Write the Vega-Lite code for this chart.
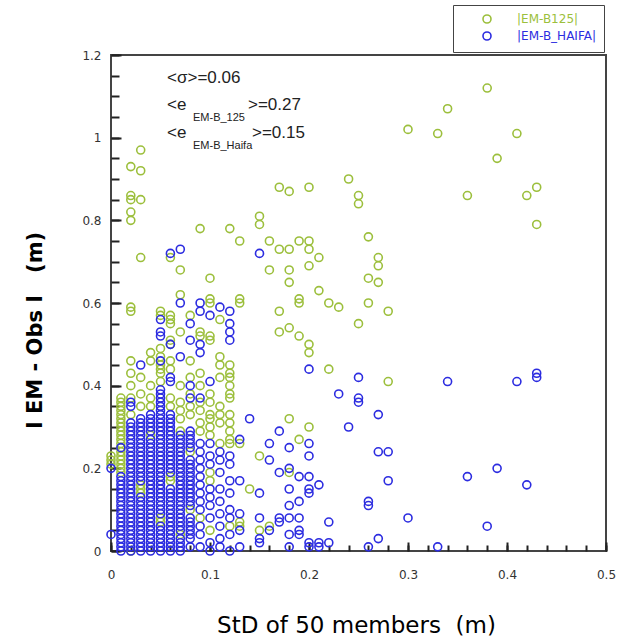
{
"$schema": "https://vega.github.io/schema/vega-lite/v6.json",
"width": 495, "height": 496,
"autosize": {"type": "none"},
"padding": {"left": 111, "top": 55, "right": 24, "bottom": 92},
"config": {"view": {"stroke": "#444", "strokeWidth": 2}, "font": "DejaVu Sans", "axis": {"ticks": true, "tickOpacity": 1}},
"datasets": {
"pts": [
{"g":"G","x":0,"y":0.21},{"g":"G","x":0,"y":0.22},{"g":"G","x":0,"y":0.23},
{"g":"G","x":0.01,"y":0.19},{"g":"G","x":0.01,"y":0.2},{"g":"G","x":0.01,"y":0.21},{"g":"G","x":0.01,"y":0.22},{"g":"G","x":0.01,"y":0.23},{"g":"G","x":0.01,"y":0.24},{"g":"G","x":0.01,"y":0.25},{"g":"G","x":0.01,"y":0.26},{"g":"G","x":0.01,"y":0.27},{"g":"G","x":0.01,"y":0.28},{"g":"G","x":0.01,"y":0.29},{"g":"G","x":0.01,"y":0.3},{"g":"G","x":0.01,"y":0.31},{"g":"G","x":0.01,"y":0.32},{"g":"G","x":0.01,"y":0.33},{"g":"G","x":0.01,"y":0.34},{"g":"G","x":0.01,"y":0.35},{"g":"G","x":0.01,"y":0.36},{"g":"G","x":0.01,"y":0.37},
{"g":"G","x":0.02,"y":0},{"g":"G","x":0.02,"y":0.33},{"g":"G","x":0.02,"y":0.37},{"g":"G","x":0.02,"y":0.4},{"g":"G","x":0.02,"y":0.43},{"g":"G","x":0.02,"y":0.46},{"g":"G","x":0.02,"y":0.58},{"g":"G","x":0.02,"y":0.59},{"g":"G","x":0.02,"y":0.8},{"g":"G","x":0.02,"y":0.82},{"g":"G","x":0.02,"y":0.85},{"g":"G","x":0.02,"y":0.86},{"g":"G","x":0.02,"y":0.93},
{"g":"G","x":0.03,"y":0.14},{"g":"G","x":0.03,"y":0.15},{"g":"G","x":0.03,"y":0.16},{"g":"G","x":0.03,"y":0.35},{"g":"G","x":0.03,"y":0.38},{"g":"G","x":0.03,"y":0.42},{"g":"G","x":0.03,"y":0.71},{"g":"G","x":0.03,"y":0.85},{"g":"G","x":0.03,"y":0.92},{"g":"G","x":0.03,"y":0.97},
{"g":"G","x":0.04,"y":0.28},{"g":"G","x":0.04,"y":0.35},{"g":"G","x":0.04,"y":0.37},{"g":"G","x":0.04,"y":0.4},{"g":"G","x":0.04,"y":0.46},{"g":"G","x":0.04,"y":0.48},
{"g":"G","x":0.05,"y":0.07},{"g":"G","x":0.05,"y":0.08},{"g":"G","x":0.05,"y":0.41},{"g":"G","x":0.05,"y":0.43},{"g":"G","x":0.05,"y":0.44},{"g":"G","x":0.05,"y":0.45},{"g":"G","x":0.05,"y":0.47},{"g":"G","x":0.05,"y":0.49},{"g":"G","x":0.05,"y":0.57},{"g":"G","x":0.05,"y":0.58},
{"g":"G","x":0.06,"y":0.17},{"g":"G","x":0.06,"y":0.18},{"g":"G","x":0.06,"y":0.35},{"g":"G","x":0.06,"y":0.37},{"g":"G","x":0.06,"y":0.44},{"g":"G","x":0.06,"y":0.46},{"g":"G","x":0.06,"y":0.5},{"g":"G","x":0.06,"y":0.51},{"g":"G","x":0.06,"y":0.55},{"g":"G","x":0.06,"y":0.56},{"g":"G","x":0.06,"y":0.57},{"g":"G","x":0.06,"y":0.71},
{"g":"G","x":0.07,"y":0.04},{"g":"G","x":0.07,"y":0.29},{"g":"G","x":0.07,"y":0.32},{"g":"G","x":0.07,"y":0.34},{"g":"G","x":0.07,"y":0.36},{"g":"G","x":0.07,"y":0.4},{"g":"G","x":0.07,"y":0.53},{"g":"G","x":0.07,"y":0.62},{"g":"G","x":0.07,"y":0.68},
{"g":"G","x":0.08,"y":0.1},{"g":"G","x":0.08,"y":0.24},{"g":"G","x":0.08,"y":0.33},{"g":"G","x":0.08,"y":0.35},{"g":"G","x":0.08,"y":0.38},{"g":"G","x":0.08,"y":0.42},{"g":"G","x":0.08,"y":0.46},{"g":"G","x":0.08,"y":0.57},
{"g":"G","x":0.09,"y":0.08},{"g":"G","x":0.09,"y":0.29},{"g":"G","x":0.09,"y":0.31},{"g":"G","x":0.09,"y":0.34},{"g":"G","x":0.09,"y":0.36},{"g":"G","x":0.09,"y":0.4},{"g":"G","x":0.09,"y":0.43},{"g":"G","x":0.09,"y":0.52},{"g":"G","x":0.09,"y":0.53},{"g":"G","x":0.09,"y":0.78},
{"g":"G","x":0.1,"y":0.05},{"g":"G","x":0.1,"y":0.17},{"g":"G","x":0.1,"y":0.19},{"g":"G","x":0.1,"y":0.28},{"g":"G","x":0.1,"y":0.3},{"g":"G","x":0.1,"y":0.32},{"g":"G","x":0.1,"y":0.33},{"g":"G","x":0.1,"y":0.36},{"g":"G","x":0.1,"y":0.38},{"g":"G","x":0.1,"y":0.51},{"g":"G","x":0.1,"y":0.52},{"g":"G","x":0.1,"y":0.6},{"g":"G","x":0.1,"y":0.61},{"g":"G","x":0.1,"y":0.66},
{"g":"G","x":0.11,"y":0.26},{"g":"G","x":0.11,"y":0.31},{"g":"G","x":0.11,"y":0.33},{"g":"G","x":0.11,"y":0.35},{"g":"G","x":0.11,"y":0.42},{"g":"G","x":0.11,"y":0.45},{"g":"G","x":0.11,"y":0.47},{"g":"G","x":0.11,"y":0.56},
{"g":"G","x":0.12,"y":0.06},{"g":"G","x":0.12,"y":0.26},{"g":"G","x":0.12,"y":0.27},{"g":"G","x":0.12,"y":0.29},{"g":"G","x":0.12,"y":0.31},{"g":"G","x":0.12,"y":0.33},{"g":"G","x":0.12,"y":0.37},{"g":"G","x":0.12,"y":0.38},{"g":"G","x":0.12,"y":0.4},{"g":"G","x":0.12,"y":0.42},{"g":"G","x":0.12,"y":0.43},{"g":"G","x":0.12,"y":0.45},{"g":"G","x":0.12,"y":0.78},
{"g":"G","x":0.13,"y":0.06},{"g":"G","x":0.13,"y":0.07},{"g":"G","x":0.13,"y":0.26},{"g":"G","x":0.13,"y":0.6},{"g":"G","x":0.13,"y":0.61},{"g":"G","x":0.13,"y":0.75},
{"g":"G","x":0.14,"y":0.15},
{"g":"G","x":0.15,"y":0.05},{"g":"G","x":0.15,"y":0.23},{"g":"G","x":0.15,"y":0.79},{"g":"G","x":0.15,"y":0.81},
{"g":"G","x":0.16,"y":0.06},{"g":"G","x":0.16,"y":0.68},{"g":"G","x":0.16,"y":0.75},
{"g":"G","x":0.17,"y":0.53},{"g":"G","x":0.17,"y":0.58},{"g":"G","x":0.17,"y":0.73},{"g":"G","x":0.17,"y":0.88},
{"g":"G","x":0.18,"y":0.19},{"g":"G","x":0.18,"y":0.32},{"g":"G","x":0.18,"y":0.54},{"g":"G","x":0.18,"y":0.65},{"g":"G","x":0.18,"y":0.68},{"g":"G","x":0.18,"y":0.73},{"g":"G","x":0.18,"y":0.87},
{"g":"G","x":0.19,"y":0.27},{"g":"G","x":0.19,"y":0.52},{"g":"G","x":0.19,"y":0.6},{"g":"G","x":0.19,"y":0.61},{"g":"G","x":0.19,"y":0.75},
{"g":"G","x":0.2,"y":0.3},{"g":"G","x":0.2,"y":0.48},{"g":"G","x":0.2,"y":0.5},{"g":"G","x":0.2,"y":0.69},{"g":"G","x":0.2,"y":0.73},{"g":"G","x":0.2,"y":0.75},{"g":"G","x":0.2,"y":0.88},
{"g":"G","x":0.21,"y":0.63},{"g":"G","x":0.21,"y":0.71},
{"g":"G","x":0.22,"y":0.44},{"g":"G","x":0.22,"y":0.6},
{"g":"G","x":0.23,"y":0.59},
{"g":"G","x":0.24,"y":0.9},
{"g":"G","x":0.25,"y":0.55},{"g":"G","x":0.25,"y":0.84},{"g":"G","x":0.25,"y":0.86},
{"g":"G","x":0.26,"y":0.6},{"g":"G","x":0.26,"y":0.66},{"g":"G","x":0.26,"y":0.76},
{"g":"G","x":0.27,"y":0.65},{"g":"G","x":0.27,"y":0.69},{"g":"G","x":0.27,"y":0.71},
{"g":"G","x":0.28,"y":0.41},{"g":"G","x":0.28,"y":0.58},
{"g":"G","x":0.3,"y":1.02},{"g":"G","x":0.33,"y":1.01},{"g":"G","x":0.34,"y":1.07},{"g":"G","x":0.36,"y":0.86},{"g":"G","x":0.38,"y":1.12},{"g":"G","x":0.39,"y":0.95},{"g":"G","x":0.41,"y":1.01},{"g":"G","x":0.42,"y":0.86},{"g":"G","x":0.43,"y":0.79},{"g":"G","x":0.43,"y":0.88},
{"g":"H","x":0,"y":0.04},{"g":"H","x":0,"y":0.2},
{"g":"H","x":0.01,"y":0},{"g":"H","x":0.01,"y":0.01},{"g":"H","x":0.01,"y":0.02},{"g":"H","x":0.01,"y":0.03},{"g":"H","x":0.01,"y":0.04},{"g":"H","x":0.01,"y":0.05},{"g":"H","x":0.01,"y":0.06},{"g":"H","x":0.01,"y":0.07},{"g":"H","x":0.01,"y":0.08},{"g":"H","x":0.01,"y":0.09},{"g":"H","x":0.01,"y":0.1},{"g":"H","x":0.01,"y":0.11},{"g":"H","x":0.01,"y":0.12},{"g":"H","x":0.01,"y":0.13},{"g":"H","x":0.01,"y":0.14},{"g":"H","x":0.01,"y":0.15},{"g":"H","x":0.01,"y":0.16},{"g":"H","x":0.01,"y":0.17},{"g":"H","x":0.01,"y":0.18},{"g":"H","x":0.01,"y":0.25},
{"g":"H","x":0.02,"y":0},{"g":"H","x":0.02,"y":0.01},{"g":"H","x":0.02,"y":0.02},{"g":"H","x":0.02,"y":0.03},{"g":"H","x":0.02,"y":0.04},{"g":"H","x":0.02,"y":0.05},{"g":"H","x":0.02,"y":0.06},{"g":"H","x":0.02,"y":0.07},{"g":"H","x":0.02,"y":0.08},{"g":"H","x":0.02,"y":0.09},{"g":"H","x":0.02,"y":0.1},{"g":"H","x":0.02,"y":0.11},{"g":"H","x":0.02,"y":0.12},{"g":"H","x":0.02,"y":0.13},{"g":"H","x":0.02,"y":0.14},{"g":"H","x":0.02,"y":0.15},{"g":"H","x":0.02,"y":0.16},{"g":"H","x":0.02,"y":0.17},{"g":"H","x":0.02,"y":0.18},{"g":"H","x":0.02,"y":0.19},{"g":"H","x":0.02,"y":0.2},{"g":"H","x":0.02,"y":0.21},{"g":"H","x":0.02,"y":0.22},{"g":"H","x":0.02,"y":0.23},{"g":"H","x":0.02,"y":0.24},{"g":"H","x":0.02,"y":0.25},{"g":"H","x":0.02,"y":0.26},{"g":"H","x":0.02,"y":0.27},{"g":"H","x":0.02,"y":0.28},{"g":"H","x":0.02,"y":0.29},{"g":"H","x":0.02,"y":0.3},{"g":"H","x":0.02,"y":0.31},{"g":"H","x":0.02,"y":0.35},{"g":"H","x":0.02,"y":0.36},
{"g":"H","x":0.03,"y":0},{"g":"H","x":0.03,"y":0.01},{"g":"H","x":0.03,"y":0.02},{"g":"H","x":0.03,"y":0.03},{"g":"H","x":0.03,"y":0.04},{"g":"H","x":0.03,"y":0.05},{"g":"H","x":0.03,"y":0.06},{"g":"H","x":0.03,"y":0.07},{"g":"H","x":0.03,"y":0.08},{"g":"H","x":0.03,"y":0.09},{"g":"H","x":0.03,"y":0.1},{"g":"H","x":0.03,"y":0.11},{"g":"H","x":0.03,"y":0.12},{"g":"H","x":0.03,"y":0.13},{"g":"H","x":0.03,"y":0.17},{"g":"H","x":0.03,"y":0.18},{"g":"H","x":0.03,"y":0.19},{"g":"H","x":0.03,"y":0.2},{"g":"H","x":0.03,"y":0.21},{"g":"H","x":0.03,"y":0.22},{"g":"H","x":0.03,"y":0.23},{"g":"H","x":0.03,"y":0.24},{"g":"H","x":0.03,"y":0.25},{"g":"H","x":0.03,"y":0.26},{"g":"H","x":0.03,"y":0.27},{"g":"H","x":0.03,"y":0.28},{"g":"H","x":0.03,"y":0.29},{"g":"H","x":0.03,"y":0.3},{"g":"H","x":0.03,"y":0.31},{"g":"H","x":0.03,"y":0.32},{"g":"H","x":0.03,"y":0.45},
{"g":"H","x":0.04,"y":0},{"g":"H","x":0.04,"y":0.01},{"g":"H","x":0.04,"y":0.02},{"g":"H","x":0.04,"y":0.03},{"g":"H","x":0.04,"y":0.04},{"g":"H","x":0.04,"y":0.05},{"g":"H","x":0.04,"y":0.06},{"g":"H","x":0.04,"y":0.07},{"g":"H","x":0.04,"y":0.08},{"g":"H","x":0.04,"y":0.09},{"g":"H","x":0.04,"y":0.1},{"g":"H","x":0.04,"y":0.11},{"g":"H","x":0.04,"y":0.12},{"g":"H","x":0.04,"y":0.13},{"g":"H","x":0.04,"y":0.14},{"g":"H","x":0.04,"y":0.15},{"g":"H","x":0.04,"y":0.16},{"g":"H","x":0.04,"y":0.17},{"g":"H","x":0.04,"y":0.18},{"g":"H","x":0.04,"y":0.19},{"g":"H","x":0.04,"y":0.2},{"g":"H","x":0.04,"y":0.21},{"g":"H","x":0.04,"y":0.22},{"g":"H","x":0.04,"y":0.23},{"g":"H","x":0.04,"y":0.24},{"g":"H","x":0.04,"y":0.25},{"g":"H","x":0.04,"y":0.26},{"g":"H","x":0.04,"y":0.27},{"g":"H","x":0.04,"y":0.29},{"g":"H","x":0.04,"y":0.3},{"g":"H","x":0.04,"y":0.31},{"g":"H","x":0.04,"y":0.32},{"g":"H","x":0.04,"y":0.33},
{"g":"H","x":0.05,"y":0},{"g":"H","x":0.05,"y":0.01},{"g":"H","x":0.05,"y":0.02},{"g":"H","x":0.05,"y":0.03},{"g":"H","x":0.05,"y":0.04},{"g":"H","x":0.05,"y":0.05},{"g":"H","x":0.05,"y":0.06},{"g":"H","x":0.05,"y":0.09},{"g":"H","x":0.05,"y":0.1},{"g":"H","x":0.05,"y":0.11},{"g":"H","x":0.05,"y":0.12},{"g":"H","x":0.05,"y":0.13},{"g":"H","x":0.05,"y":0.14},{"g":"H","x":0.05,"y":0.15},{"g":"H","x":0.05,"y":0.16},{"g":"H","x":0.05,"y":0.17},{"g":"H","x":0.05,"y":0.18},{"g":"H","x":0.05,"y":0.19},{"g":"H","x":0.05,"y":0.2},{"g":"H","x":0.05,"y":0.21},{"g":"H","x":0.05,"y":0.22},{"g":"H","x":0.05,"y":0.23},{"g":"H","x":0.05,"y":0.24},{"g":"H","x":0.05,"y":0.25},{"g":"H","x":0.05,"y":0.26},{"g":"H","x":0.05,"y":0.27},{"g":"H","x":0.05,"y":0.28},{"g":"H","x":0.05,"y":0.29},{"g":"H","x":0.05,"y":0.3},{"g":"H","x":0.05,"y":0.31},{"g":"H","x":0.05,"y":0.32},{"g":"H","x":0.05,"y":0.33},{"g":"H","x":0.05,"y":0.34},{"g":"H","x":0.05,"y":0.35},{"g":"H","x":0.05,"y":0.36},{"g":"H","x":0.05,"y":0.37},{"g":"H","x":0.05,"y":0.38},{"g":"H","x":0.05,"y":0.39},{"g":"H","x":0.05,"y":0.46},{"g":"H","x":0.05,"y":0.52},{"g":"H","x":0.05,"y":0.53},{"g":"H","x":0.05,"y":0.56},
{"g":"H","x":0.06,"y":0},{"g":"H","x":0.06,"y":0.01},{"g":"H","x":0.06,"y":0.02},{"g":"H","x":0.06,"y":0.03},{"g":"H","x":0.06,"y":0.04},{"g":"H","x":0.06,"y":0.05},{"g":"H","x":0.06,"y":0.06},{"g":"H","x":0.06,"y":0.07},{"g":"H","x":0.06,"y":0.08},{"g":"H","x":0.06,"y":0.09},{"g":"H","x":0.06,"y":0.1},{"g":"H","x":0.06,"y":0.11},{"g":"H","x":0.06,"y":0.12},{"g":"H","x":0.06,"y":0.13},{"g":"H","x":0.06,"y":0.14},{"g":"H","x":0.06,"y":0.15},{"g":"H","x":0.06,"y":0.19},{"g":"H","x":0.06,"y":0.2},{"g":"H","x":0.06,"y":0.21},{"g":"H","x":0.06,"y":0.22},{"g":"H","x":0.06,"y":0.23},{"g":"H","x":0.06,"y":0.24},{"g":"H","x":0.06,"y":0.25},{"g":"H","x":0.06,"y":0.26},{"g":"H","x":0.06,"y":0.27},{"g":"H","x":0.06,"y":0.28},{"g":"H","x":0.06,"y":0.29},{"g":"H","x":0.06,"y":0.3},{"g":"H","x":0.06,"y":0.31},{"g":"H","x":0.06,"y":0.32},{"g":"H","x":0.06,"y":0.33},{"g":"H","x":0.06,"y":0.41},{"g":"H","x":0.06,"y":0.42},{"g":"H","x":0.06,"y":0.5},{"g":"H","x":0.06,"y":0.72},
{"g":"H","x":0.07,"y":0},{"g":"H","x":0.07,"y":0.01},{"g":"H","x":0.07,"y":0.02},{"g":"H","x":0.07,"y":0.03},{"g":"H","x":0.07,"y":0.05},{"g":"H","x":0.07,"y":0.06},{"g":"H","x":0.07,"y":0.07},{"g":"H","x":0.07,"y":0.08},{"g":"H","x":0.07,"y":0.09},{"g":"H","x":0.07,"y":0.1},{"g":"H","x":0.07,"y":0.11},{"g":"H","x":0.07,"y":0.12},{"g":"H","x":0.07,"y":0.13},{"g":"H","x":0.07,"y":0.14},{"g":"H","x":0.07,"y":0.15},{"g":"H","x":0.07,"y":0.16},{"g":"H","x":0.07,"y":0.17},{"g":"H","x":0.07,"y":0.18},{"g":"H","x":0.07,"y":0.19},{"g":"H","x":0.07,"y":0.2},{"g":"H","x":0.07,"y":0.21},{"g":"H","x":0.07,"y":0.22},{"g":"H","x":0.07,"y":0.23},{"g":"H","x":0.07,"y":0.24},{"g":"H","x":0.07,"y":0.25},{"g":"H","x":0.07,"y":0.26},{"g":"H","x":0.07,"y":0.27},{"g":"H","x":0.07,"y":0.28},{"g":"H","x":0.07,"y":0.47},{"g":"H","x":0.07,"y":0.6},{"g":"H","x":0.07,"y":0.73},
{"g":"H","x":0.08,"y":0.01},{"g":"H","x":0.08,"y":0.03},{"g":"H","x":0.08,"y":0.04},{"g":"H","x":0.08,"y":0.05},{"g":"H","x":0.08,"y":0.06},{"g":"H","x":0.08,"y":0.07},{"g":"H","x":0.08,"y":0.08},{"g":"H","x":0.08,"y":0.11},{"g":"H","x":0.08,"y":0.12},{"g":"H","x":0.08,"y":0.13},{"g":"H","x":0.08,"y":0.14},{"g":"H","x":0.08,"y":0.15},{"g":"H","x":0.08,"y":0.16},{"g":"H","x":0.08,"y":0.17},{"g":"H","x":0.08,"y":0.18},{"g":"H","x":0.08,"y":0.19},{"g":"H","x":0.08,"y":0.2},{"g":"H","x":0.08,"y":0.21},{"g":"H","x":0.08,"y":0.22},{"g":"H","x":0.08,"y":0.25},{"g":"H","x":0.08,"y":0.26},{"g":"H","x":0.08,"y":0.27},{"g":"H","x":0.08,"y":0.28},{"g":"H","x":0.08,"y":0.29},{"g":"H","x":0.08,"y":0.37},{"g":"H","x":0.08,"y":0.4},{"g":"H","x":0.08,"y":0.51},{"g":"H","x":0.08,"y":0.55},
{"g":"H","x":0.09,"y":0.01},{"g":"H","x":0.09,"y":0.04},{"g":"H","x":0.09,"y":0.06},{"g":"H","x":0.09,"y":0.1},{"g":"H","x":0.09,"y":0.12},{"g":"H","x":0.09,"y":0.14},{"g":"H","x":0.09,"y":0.16},{"g":"H","x":0.09,"y":0.18},{"g":"H","x":0.09,"y":0.2},{"g":"H","x":0.09,"y":0.22},{"g":"H","x":0.09,"y":0.24},{"g":"H","x":0.09,"y":0.26},{"g":"H","x":0.09,"y":0.37},{"g":"H","x":0.09,"y":0.48},{"g":"H","x":0.09,"y":0.5},{"g":"H","x":0.09,"y":0.58},{"g":"H","x":0.09,"y":0.6},
{"g":"H","x":0.1,"y":0},{"g":"H","x":0.1,"y":0.02},{"g":"H","x":0.1,"y":0.08},{"g":"H","x":0.1,"y":0.11},{"g":"H","x":0.1,"y":0.13},{"g":"H","x":0.1,"y":0.15},{"g":"H","x":0.1,"y":0.21},{"g":"H","x":0.1,"y":0.23},{"g":"H","x":0.1,"y":0.26},{"g":"H","x":0.1,"y":0.41},{"g":"H","x":0.1,"y":0.57},
{"g":"H","x":0.11,"y":0.01},{"g":"H","x":0.11,"y":0.03},{"g":"H","x":0.11,"y":0.06},{"g":"H","x":0.11,"y":0.09},{"g":"H","x":0.11,"y":0.12},{"g":"H","x":0.11,"y":0.15},{"g":"H","x":0.11,"y":0.19},{"g":"H","x":0.11,"y":0.22},{"g":"H","x":0.11,"y":0.24},{"g":"H","x":0.11,"y":0.59},
{"g":"H","x":0.12,"y":0},{"g":"H","x":0.12,"y":0.04},{"g":"H","x":0.12,"y":0.08},{"g":"H","x":0.12,"y":0.1},{"g":"H","x":0.12,"y":0.14},{"g":"H","x":0.12,"y":0.17},{"g":"H","x":0.12,"y":0.21},{"g":"H","x":0.12,"y":0.23},{"g":"H","x":0.12,"y":0.51},{"g":"H","x":0.12,"y":0.53},{"g":"H","x":0.12,"y":0.55},{"g":"H","x":0.12,"y":0.58},
{"g":"H","x":0.13,"y":0.01},{"g":"H","x":0.13,"y":0.05},{"g":"H","x":0.13,"y":0.09},{"g":"H","x":0.13,"y":0.17},{"g":"H","x":0.13,"y":0.27},
{"g":"H","x":0.14,"y":0.32},
{"g":"H","x":0.15,"y":0.02},{"g":"H","x":0.15,"y":0.03},{"g":"H","x":0.15,"y":0.08},{"g":"H","x":0.15,"y":0.14},{"g":"H","x":0.15,"y":0.72},
{"g":"H","x":0.16,"y":0.05},{"g":"H","x":0.16,"y":0.22},{"g":"H","x":0.16,"y":0.26},
{"g":"H","x":0.17,"y":0.07},{"g":"H","x":0.17,"y":0.08},{"g":"H","x":0.17,"y":0.19},{"g":"H","x":0.17,"y":0.29},
{"g":"H","x":0.18,"y":0.01},{"g":"H","x":0.18,"y":0.04},{"g":"H","x":0.18,"y":0.08},{"g":"H","x":0.18,"y":0.11},{"g":"H","x":0.18,"y":0.15},{"g":"H","x":0.18,"y":0.2},{"g":"H","x":0.18,"y":0.25},
{"g":"H","x":0.19,"y":0.04},{"g":"H","x":0.19,"y":0.05},{"g":"H","x":0.19,"y":0.08},{"g":"H","x":0.19,"y":0.12},{"g":"H","x":0.19,"y":0.18},
{"g":"H","x":0.2,"y":0.01},{"g":"H","x":0.2,"y":0.02},{"g":"H","x":0.2,"y":0.14},{"g":"H","x":0.2,"y":0.15},{"g":"H","x":0.2,"y":0.18},{"g":"H","x":0.2,"y":0.23},{"g":"H","x":0.2,"y":0.26},{"g":"H","x":0.2,"y":0.44},
{"g":"H","x":0.21,"y":0.01},{"g":"H","x":0.21,"y":0.02},{"g":"H","x":0.21,"y":0.16},
{"g":"H","x":0.22,"y":0.02},{"g":"H","x":0.22,"y":0.07},
{"g":"H","x":0.23,"y":0.38},{"g":"H","x":0.24,"y":0.3},
{"g":"H","x":0.25,"y":0.36},{"g":"H","x":0.25,"y":0.37},{"g":"H","x":0.25,"y":0.42},
{"g":"H","x":0.26,"y":0.01},{"g":"H","x":0.26,"y":0.11},{"g":"H","x":0.26,"y":0.12},
{"g":"H","x":0.27,"y":0.03},{"g":"H","x":0.27,"y":0.24},{"g":"H","x":0.27,"y":0.33},
{"g":"H","x":0.28,"y":0.17},{"g":"H","x":0.28,"y":0.24},
{"g":"H","x":0.3,"y":0.08},{"g":"H","x":0.33,"y":0.01},{"g":"H","x":0.34,"y":0.41},{"g":"H","x":0.36,"y":0.18},{"g":"H","x":0.38,"y":0.06},{"g":"H","x":0.39,"y":0.2},{"g":"H","x":0.41,"y":0.41},{"g":"H","x":0.42,"y":0.16},{"g":"H","x":0.43,"y":0.42},{"g":"H","x":0.43,"y":0.43}
],
"ann": [
{"t":"<σ>=0.06","x":0.0566,"y":1.144},
{"t":"<e","x":0.0566,"y":1.079},
{"t":">=0.27","x":0.1384,"y":1.079},
{"t":"<e","x":0.0566,"y":1.011},
{"t":">=0.15","x":0.1424,"y":1.011}
],
"sub": [
{"t":"EM-B_125","x":0.0828,"y":1.047},
{"t":"EM-B_Haifa","x":0.0828,"y":0.979}
]
},
"resolve": {"axis": {"x": "independent", "y": "independent"}},
"layer": [
{"data": {"name": "pts"},
 "mark": {"type": "point", "shape": "circle", "filled": false, "size": 64, "strokeWidth": 1.6, "opacity": 1, "clip": false},
 "encoding": {
  "x": {"field": "x", "type": "quantitative",
   "scale": {"domain": [0, 0.5], "nice": false, "zero": false},
   "axis": {"title": "StD of 50 members \u00a0(m)", "orient": "bottom", "offset": -9, "domain": false, "ticks": true,
    "values": [0,0.1,0.2,0.3,0.4,0.5], "format": "~g",
    "tickSize": 9, "tickColor": "#222", "tickWidth": 2, "gridOpacity": 0,
    "labelFont": "DejaVu Sans", "labelFontSize": 12, "labelColor": "#333", "labelPadding": 18, "labelFlush": false,
    "titleFont": "DejaVu Sans", "titleFontSize": 23, "titleFontWeight": "normal", "titleColor": "#000",
    "titleX": 245, "titleY": 83, "titleBaseline": "middle", "titleAlign": "center"}},
  "y": {"field": "y", "type": "quantitative",
   "scale": {"domain": [0, 1.2], "nice": false, "zero": false},
   "axis": {"title": "I EM - Obs I\u00a0\u00a0\u00a0(m)", "orient": "left", "offset": -10, "domain": false, "ticks": true,
    "values": [0,0.2,0.4,0.6,0.8,1,1.2], "format": "~g",
    "tickSize": 10, "tickColor": "#222", "tickWidth": 2, "gridOpacity": 0,
    "labelFont": "DejaVu Sans", "labelFontSize": 12, "labelColor": "#333", "labelPadding": 10, "labelFlush": false,
    "titleFont": "DejaVu Sans", "titleFontSize": 21, "titleFontWeight": "bold", "titleColor": "#000",
    "titleX": -86, "titleY": 275, "titleBaseline": "middle", "titleAlign": "center", "titleAngle": -90}},
  "color": {"field": "g", "type": "nominal",
   "scale": {"domain": ["G", "H"], "range": ["#9cbf3c", "#2c2ce0"]},
   "legend": {"title": null, "orient": "none", "legendX": 342, "legendY": -50,
    "labelExpr": "datum.value == 'G' ? '|EM-B125|' : '|EM-B_HAIFA|'",
    "labelColor": {"expr": "datum.value == 'G' ? '#9cbf3c' : '#2c2ce0'"},
    "labelFont": "DejaVu Sans", "labelFontSize": 12, "labelOffset": 24,
    "symbolOffset": 20, "symbolSize": 64, "symbolStrokeWidth": 1.6, "symbolType": "circle",
    "padding": 8, "rowPadding": 1, "strokeColor": "#444", "fillColor": "white"}}}},
{"data": {"name": "ann"},
 "mark": {"type": "text", "align": "left", "baseline": "middle", "font": "Liberation Sans", "fontSize": 17, "color": "#222"},
 "encoding": {
  "x": {"field": "x", "type": "quantitative",
   "axis": {"orient": "bottom", "offset": -6, "domain": false, "labels": false, "title": null, "ticks": true, "gridOpacity": 0,
    "values": [0,0.02,0.04,0.06,0.08,0.1,0.12,0.14,0.16,0.18,0.2,0.22,0.24,0.26,0.28,0.3,0.32,0.34,0.36,0.38,0.4,0.42,0.44,0.46,0.48,0.5],
    "tickSize": 6, "tickColor": "#222", "tickWidth": 2}},
  "y": {"field": "y", "type": "quantitative",
   "axis": {"orient": "left", "offset": -8, "domain": false, "labels": false, "title": null, "ticks": true, "gridOpacity": 0,
    "values": [0,0.05,0.1,0.15,0.2,0.25,0.3,0.35,0.4,0.45,0.5,0.55,0.6,0.65,0.7,0.75,0.8,0.85,0.9,0.95,1,1.05,1.1,1.15,1.2],
    "tickSize": 8, "tickColor": "#222", "tickWidth": 2}},
  "text": {"field": "t"}}},
{"data": {"name": "sub"},
 "mark": {"type": "text", "align": "left", "baseline": "middle", "font": "Liberation Sans", "fontSize": 11, "color": "#222"},
 "encoding": {
  "x": {"field": "x", "type": "quantitative", "axis": null},
  "y": {"field": "y", "type": "quantitative", "axis": null},
  "text": {"field": "t"}}}
]
}
